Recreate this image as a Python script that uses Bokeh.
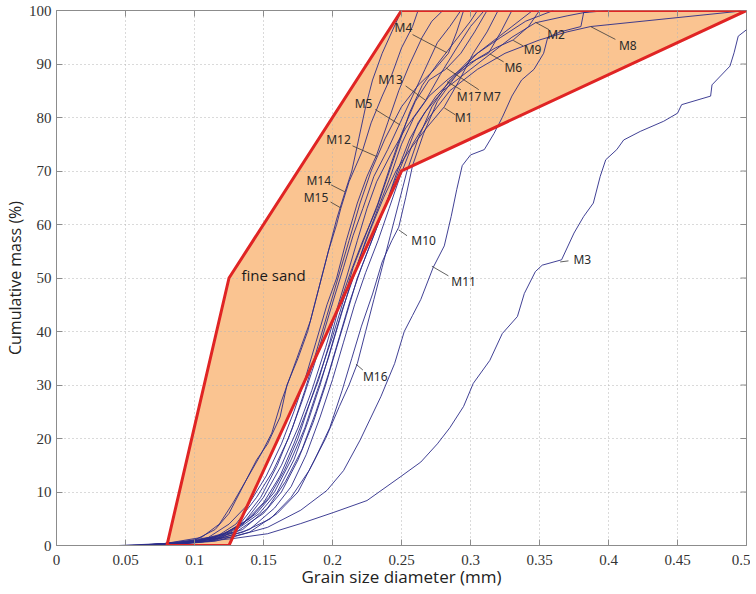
import math
from bokeh.plotting import figure
from bokeh.models import Range1d, FixedTicker
from bokeh.core.properties import value
from bokeh.embed import file_html
from bokeh.resources import INLINE

# ---------------- data ----------------
x_ticks = [0, 0.05, 0.1, 0.15, 0.2, 0.25, 0.3, 0.35, 0.4, 0.45, 0.5]
x_tick_labels = ["0", "0.05", "0.1", "0.15", "0.2", "0.25", "0.3", "0.35", "0.4", "0.45", "0.5"]
y_ticks = [0, 10, 20, 30, 40, 50, 60, 70, 80, 90, 100]
y_tick_labels = ["0", "10", "20", "30", "40", "50", "60", "70", "80", "90", "100"]

# fine sand envelope
sand_x = [0.08, 0.125, 0.25, 0.5, 0.25, 0.125]
sand_y = [0, 50, 100, 100, 70, 0]

m14_x = [0.065, 0.10, 0.115, 0.125, 0.135, 0.145, 0.153, 0.162, 0.167, 0.175, 0.182, 0.188, 0.195, 0.203, 0.209, 0.214, 0.219, 0.224, 0.229, 0.236, 0.243, 0.25]
m14_y = [0, 1, 3, 6, 11, 16, 19, 24, 30, 35, 40, 46, 53, 61, 66, 70, 76, 82, 87, 92, 96, 100]
m15_x = [0.07, 0.105, 0.118, 0.128, 0.137, 0.148, 0.156, 0.163, 0.17, 0.177, 0.184, 0.19, 0.197, 0.203, 0.206, 0.212, 0.222, 0.228, 0.236, 0.243, 0.25, 0.258, 0.262]
m15_y = [0, 1.5, 4, 8, 12, 17, 21, 27, 32, 37, 42, 48, 55, 60, 63, 68, 74, 79, 84, 88, 93, 97, 100]
m12_x = [0.075, 0.11, 0.125, 0.14, 0.152, 0.163, 0.172, 0.18, 0.188, 0.196, 0.203, 0.21, 0.218, 0.225, 0.232, 0.24, 0.248, 0.256, 0.265, 0.272, 0.28]
m12_y = [0, 1.5, 4, 8, 13, 19, 25, 31, 38, 45, 50, 57, 64, 69, 73, 79, 85, 90, 95, 98, 100]
m5_x = [0.08, 0.115, 0.13, 0.145, 0.157, 0.168, 0.178, 0.187, 0.195, 0.202, 0.208, 0.215, 0.222, 0.23, 0.24, 0.249, 0.258, 0.267, 0.276, 0.285, 0.293]
m5_y = [0, 1.5, 4, 9, 14, 20, 27, 34, 41, 47, 52, 58, 63, 69, 74, 79, 84, 89, 94, 97, 100]
m13_x = [0.085, 0.12, 0.135, 0.15, 0.163, 0.175, 0.185, 0.195, 0.203, 0.21, 0.218, 0.225, 0.232, 0.242, 0.253, 0.267, 0.278, 0.29, 0.3, 0.31]
m13_y = [0, 1.5, 4, 9, 15, 22, 29, 37, 44, 50, 57, 63, 68, 73, 78, 83, 88, 93, 97, 100]
m4_x = [0.082, 0.118, 0.133, 0.148, 0.16, 0.171, 0.18, 0.188, 0.196, 0.204, 0.212, 0.22, 0.228, 0.238, 0.25, 0.262, 0.274, 0.284, 0.29, 0.295]
m4_y = [0, 1.5, 4, 9, 15, 22, 29, 36, 43, 50, 57, 64, 70, 76, 82, 86, 89, 92, 96, 100]

m7_x = [0.045, 0.09, 0.115, 0.135, 0.15, 0.162, 0.172, 0.181, 0.19, 0.198, 0.205, 0.213, 0.222, 0.232, 0.24, 0.248, 0.256, 0.265, 0.276, 0.288, 0.3, 0.305]
m7_y = [0, 0.5, 1.5, 4, 8, 13, 19, 25, 31, 38, 45, 51, 57, 63, 69, 75, 81, 86, 90, 94, 98, 100]
m17_x = [0.05, 0.095, 0.12, 0.14, 0.154, 0.165, 0.175, 0.184, 0.192, 0.2, 0.207, 0.215, 0.224, 0.233, 0.242, 0.25, 0.26, 0.27, 0.282, 0.293, 0.303, 0.312]
m17_y = [0, 0.5, 2, 5, 9, 14, 20, 27, 33, 39, 45, 52, 58, 64, 71, 77, 83, 87, 89, 92, 96, 100]
m1_x = [0.06, 0.1, 0.125, 0.145, 0.158, 0.17, 0.18, 0.189, 0.197, 0.205, 0.212, 0.22, 0.229, 0.237, 0.246, 0.256, 0.268, 0.281, 0.292, 0.302, 0.312, 0.32]
m1_y = [0, 0.8, 2.5, 6, 10, 16, 22, 29, 35, 42, 48, 54, 60, 65, 70, 74, 78, 82, 87, 92, 96, 100]
m6_x = [0.055, 0.1, 0.128, 0.147, 0.16, 0.172, 0.182, 0.191, 0.199, 0.207, 0.215, 0.224, 0.233, 0.242, 0.25, 0.259, 0.27, 0.283, 0.298, 0.313, 0.322, 0.33]
m6_y = [0, 0.7, 2.5, 6, 10, 16, 23, 30, 37, 44, 50, 57, 63, 69, 75, 80, 84, 87, 90, 92, 96, 100]
m9_x = [0.06, 0.105, 0.13, 0.15, 0.163, 0.175, 0.186, 0.195, 0.203, 0.21, 0.218, 0.227, 0.236, 0.245, 0.253, 0.262, 0.275, 0.29, 0.305, 0.318, 0.331, 0.342, 0.35]
m9_y = [0, 0.8, 2.5, 6, 10, 16, 23, 30, 37, 43, 50, 56, 62, 68, 73, 79, 84, 88, 91, 93, 94.5, 97, 100]
m16_x = [0.07, 0.11, 0.135, 0.155, 0.17, 0.183, 0.195, 0.205, 0.212, 0.218, 0.224, 0.23, 0.236, 0.242, 0.248, 0.254, 0.262, 0.272, 0.285, 0.3, 0.315, 0.33, 0.345]
m16_y = [0, 0.8, 2.5, 5, 9, 14, 20, 26, 30, 34, 40, 46, 52, 58, 64, 70, 76, 82, 87, 91, 94, 97, 100]
m10_x = [0.075, 0.115, 0.14, 0.16, 0.175, 0.187, 0.198, 0.207, 0.214, 0.221, 0.229, 0.236, 0.243, 0.248, 0.253, 0.258, 0.266, 0.276, 0.29, 0.305, 0.322, 0.34, 0.36]
m10_y = [0, 0.8, 2.5, 6, 10, 16, 22, 29, 35, 41, 47, 53, 57, 59.5, 65, 71, 77, 83, 88, 92, 95, 98, 100]
m2_x = [0.065, 0.11, 0.135, 0.153, 0.166, 0.178, 0.188, 0.197, 0.205, 0.213, 0.221, 0.23, 0.239, 0.247, 0.256, 0.267, 0.28, 0.3, 0.315, 0.33, 0.347, 0.37, 0.39]
m2_y = [0, 0.8, 3, 7, 12, 18, 25, 32, 39, 46, 52, 58, 64, 70, 76, 81, 85, 89, 92, 95, 97.7, 99, 100]
m8_x = [0.07, 0.115, 0.14, 0.158, 0.17, 0.181, 0.191, 0.2, 0.208, 0.216, 0.224, 0.233, 0.241, 0.249, 0.258, 0.27, 0.285, 0.305, 0.325, 0.35, 0.37, 0.387, 0.5]
m8_y = [0, 1, 3, 7, 11, 17, 24, 31, 38, 45, 51, 57, 63, 69, 75, 80, 85, 89, 92, 94.5, 96, 97, 100]

m11_x = [0.06, 0.1, 0.128, 0.153, 0.177, 0.196, 0.208, 0.22, 0.235, 0.245, 0.252, 0.258, 0.264, 0.273, 0.281, 0.286, 0.29, 0.294, 0.3, 0.31, 0.317, 0.323, 0.33, 0.337, 0.346, 0.353, 0.356, 0.365, 0.38, 0.382, 0.4]
m11_y = [0, 0.8, 1.6, 3.4, 6.6, 10.3, 14, 19.7, 27.8, 34, 40, 43, 46, 52, 56, 61.5, 66.5, 71, 73, 74, 77, 80, 84, 87, 89, 92, 95, 96, 97, 99.6, 100]
m3_x = [0.08, 0.128, 0.153, 0.177, 0.201, 0.225, 0.249, 0.264, 0.276, 0.285, 0.295, 0.302, 0.314, 0.323, 0.334, 0.339, 0.347, 0.352, 0.366, 0.375, 0.382, 0.389, 0.394, 0.398, 0.406, 0.411, 0.423, 0.44, 0.45, 0.453, 0.474, 0.475, 0.488, 0.491, 0.494, 0.5]
m3_y = [0, 1.3, 2.2, 4.1, 6.2, 8.4, 12.8, 15.6, 19, 22, 26, 30.3, 34.6, 39.6, 42.8, 47.1, 51.2, 52.4, 53.4, 58.4, 61.5, 64, 69, 72.1, 74, 75.8, 77.4, 79.3, 80.8, 82.4, 84, 86.1, 89.6, 92.1, 95.2, 96.4]

curves = [(m14_x, m14_y), (m15_x, m15_y), (m12_x, m12_y), (m5_x, m5_y), (m13_x, m13_y),
          (m4_x, m4_y), (m7_x, m7_y), (m17_x, m17_y), (m1_x, m1_y), (m6_x, m6_y),
          (m9_x, m9_y), (m16_x, m16_y), (m10_x, m10_y), (m2_x, m2_y), (m8_x, m8_y),
          (m11_x, m11_y), (m3_x, m3_y)]

label_names = ["M4", "M13", "M5", "M12", "M14", "M15", "M10", "M11", "M16", "M3",
               "M1", "M17", "M7", "M6", "M9", "M2", "M8"]
label_x = [0.2514, 0.242, 0.2225, 0.2043, 0.19, 0.188, 0.266, 0.295, 0.231, 0.381,
           0.295, 0.299, 0.3155, 0.331, 0.345, 0.362, 0.414]
label_y = [96.8, 87.1, 82.6, 75.8, 68.2, 65.0, 57.1, 49.4, 31.6, 53.4,
           80.0, 83.9, 83.9, 89.3, 92.7, 95.5, 93.4]
# leader lines (label -> curve)
lead_x0 = [0.258, 0.253, 0.231, 0.2145, 0.199, 0.1986, 0.254, 0.284, 0.222, 0.371,
           0.289, 0.293, 0.306, 0.324, 0.338, 0.357, 0.405]
lead_y0 = [95.5, 85.9, 81.5, 74.7, 67.4, 64.2, 57.9, 50.4, 32.8, 53.2,
           80.5, 85.2, 85.2, 90.4, 93.4, 96.4, 94.6]
lead_x1 = [0.283, 0.267, 0.249, 0.232, 0.209, 0.206, 0.248, 0.272, 0.217, 0.365,
           0.281, 0.283, 0.282, 0.314, 0.331, 0.347, 0.387]
lead_y1 = [92.1, 83.3, 78.6, 72.7, 66.1, 63.1, 59.0, 52.2, 33.9, 53.0,
           81.8, 86.7, 89.3, 91.9, 94.4, 97.8, 97.0]

# ---------------- figure ----------------
AX = "#8c8c8c"
TICK_FONT = "Liberation Sans Narrow"

p = figure(width=750, height=591,
           x_range=Range1d(0, 0.5), y_range=Range1d(0, 100),
           output_backend="svg", toolbar_location=None,
           min_border_left=56, min_border_right=4, min_border_top=10, min_border_bottom=46,
           background_fill_color="white", border_fill_color="white")
p.outline_line_color = AX
p.outline_line_width = 1

p.xaxis.ticker = FixedTicker(ticks=x_ticks)
p.yaxis.ticker = FixedTicker(ticks=y_ticks)
p.xaxis.major_label_overrides = dict(zip(x_ticks, x_tick_labels))
p.yaxis.major_label_overrides = dict(zip(y_ticks, y_tick_labels))
p.xaxis.axis_label = "Grain size diameter (mm)"
p.yaxis.axis_label = "Cumulative mass (%)"
for ax in (p.xaxis[0], p.yaxis[0]):
    ax.axis_line_color = AX
    ax.major_tick_line_color = AX
    ax.major_tick_in = 6
    ax.major_tick_out = 0
    ax.minor_tick_line_color = None
    ax.major_label_text_font = TICK_FONT
    ax.major_label_text_font_size = "15px"
    ax.major_label_text_color = "#333333"
    ax.axis_label_text_font = "Open Sans"
    ax.axis_label_text_font_style = "normal"
    ax.axis_label_text_color = "#222222"
p.xaxis.axis_label_text_font_size = "17px"
p.yaxis.axis_label_text_font_size = "16px"
p.xaxis.major_label_standoff = 9
p.yaxis.major_label_standoff = 5
p.xaxis.axis_label_standoff = -3
p.yaxis.axis_label_standoff = 0

p.xgrid.ticker = FixedTicker(ticks=x_ticks)
p.ygrid.ticker = FixedTicker(ticks=y_ticks)
p.grid.grid_line_color = "#b4b4b4"
p.grid.grid_line_dash = "1 3"
p.grid.grid_line_width = 1

# orange fill below the grid
p.patch(sand_x, sand_y, fill_color="#FAC491", line_color=None, level="image")

for cx, cy in curves:
    p.line(cx, cy, line_color="#2c2c8a", line_width=1, line_alpha=0.9)

# red outline on top
p.patch(sand_x, sand_y, fill_alpha=0, line_color="#E02424", line_width=3, line_join="miter")

# inward tick marks on the top and right edges of the box (half of each dash is clipped)
p.scatter(x=x_ticks, y=[100] * len(x_ticks), marker="dash", size=12, angle=math.pi / 2,
          line_color=AX, line_width=1)
p.scatter(x=[0.5] * len(y_ticks), y=y_ticks, marker="dash", size=12,
          line_color=AX, line_width=1)

p.segment(x0=lead_x0, y0=lead_y0, x1=lead_x1, y1=lead_y1, line_color="#3a3a3a", line_width=0.8)
p.text(x=label_x, y=label_y, text=label_names, text_font=value("Noto Sans"),
       text_font_size="12px", text_align="center", text_baseline="middle", text_color="#2a2a2a")
p.text(x=[0.134], y=[50.6], text=["fine sand"], text_font=value("Open Sans"),
       text_font_size="15px", text_align="left", text_baseline="middle", text_color="#1a1a1a")

open("out.html", "w").write(file_html(p, INLINE))
